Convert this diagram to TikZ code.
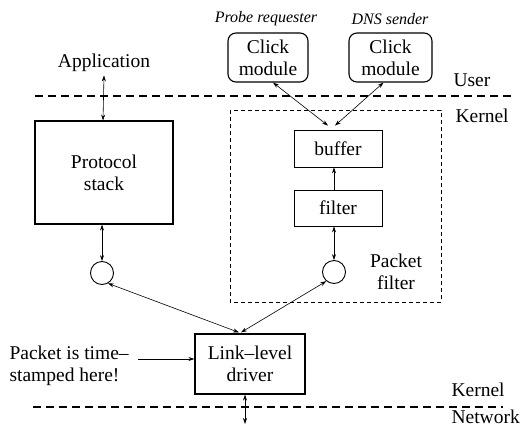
\documentclass[tikz,border=0pt]{standalone}
\usepackage{fontspec}
\setmainfont{Liberation Serif}
\usetikzlibrary{arrows.meta}

\begin{document}
\begin{tikzpicture}[x=1pt,y=1pt,yscale=-1,xscale=1,
  every node/.style={font=\fontsize{19.5}{22}\selectfont},
  box/.style={draw,line width=1.1pt,align=center,inner sep=0pt},
  tag/.style={font=\fontsize{16}{18}\selectfont\itshape},
  sep/.style={dashed,dash pattern=on 8pt off 5pt,line width=1.1pt},
  link/.style={{Stealth[length=6pt,width=4pt]}-{Stealth[length=6pt,width=4pt]},line width=0.6pt},
  uplink/.style={-{Stealth[length=6pt,width=4pt]},line width=0.6pt}]
\useasboundingbox (0,0) rectangle (523,434);

%Separators
\draw [sep] (35,96) -- (515,96) ;
\draw [sep] (33,407) -- (503,407) ;

%Left side: application and protocol stack
\node (app) at (104,63) {Application};
\node [box,minimum width=138pt,minimum height=103pt] (stack) at (104,172.5) {Protocol\\stack};
\node [draw,circle,line width=0.9pt,minimum size=23pt,inner sep=0pt] (lcirc) at (102,273) {};

%Right side: click modules and packet filter
\node [tag] (probe) at (266,19) {Probe requester};
\node [tag] (dns) at (390,19) {DNS sender};
\node [box,rounded corners=8pt,minimum width=80pt,minimum height=49pt] (click1) at (268,57.5) {Click\\module};
\node [box,rounded corners=8pt,minimum width=83pt,minimum height=49pt] (click2) at (390.5,57.5) {Click\\module};
\draw [dashed,dash pattern=on 4pt off 3pt,line width=0.6pt] (230,110) rectangle (441,302) ;
\node [box,line width=0.8pt,minimum width=88pt,minimum height=37pt] (buffer) at (338,148.5) {buffer};
\node [box,line width=0.8pt,minimum width=88pt,minimum height=36pt] (filter) at (338,208) {filter};
\node [draw,circle,line width=0.9pt,minimum size=23pt,inner sep=0pt] (rcirc) at (334,272) {};
\node [align=center] (pf) at (396,272) {Packet\\filter};

%Layer labels
\node [anchor=west] (user) at (450,80) {User};
\node [anchor=west] (kern1) at (452,116) {Kernel};
\node [anchor=west] (kern2) at (448,390) {Kernel};
\node [anchor=west] (net) at (448,417) {Network};

%Driver
\node [box,minimum width=110pt,minimum height=60pt] (driver) at (250,364) {Link--level\\driver};
\node [align=left,anchor=west] (stamp) at (6,366) {Packet is time--\\stamped here!};
\coordinate (bottom) at (245,424);

%Connectors
\draw [link] (app.south) -- ([xshift=-1pt]stack.north) ;
\draw [link] ([xshift=-2pt]stack.south) -- (lcirc.north) ;
\draw [link] ([xshift=5pt]click1.south) -- ([xshift=-10pt,yshift=-4pt]buffer.north) ;
\draw [link] ([xshift=-7pt]click2.south) -- ([xshift=-3pt,yshift=-4pt]buffer.north) ;
\draw [uplink] ([xshift=-4pt]filter.north) -- ([xshift=-4pt]buffer.south) ;
\draw [link] ([xshift=-4pt]filter.south) -- (rcirc.north) ;
\draw [link] (lcirc.-60) -- ([xshift=-11pt,yshift=-1pt]driver.north) ;
\draw [link] (rcirc.-130) -- ([xshift=-9pt,yshift=-1pt]driver.north) ;
\draw [uplink] (138,359) -- (driver.west |- 0,359) ;
\draw [link] ([xshift=-5pt]driver.south) -- ([xshift=0pt]bottom) ;
\end{tikzpicture}
\end{document}
